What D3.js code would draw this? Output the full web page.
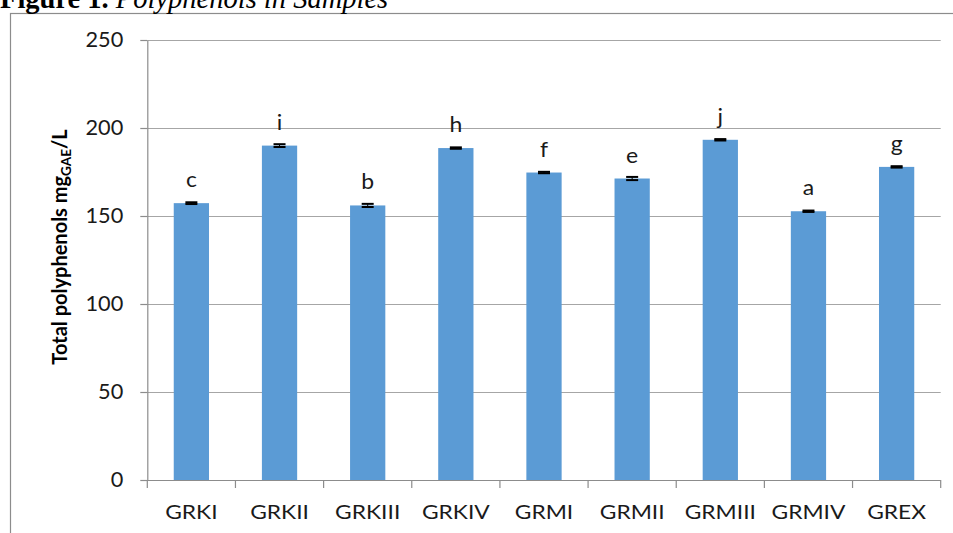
<!DOCTYPE html>
<html>
<head>
<meta charset="utf-8">
<script src="https://cdn.jsdelivr.net/npm/d3@7"></script>
<style>
  html, body { margin: 0; padding: 0; background: #fff; overflow: hidden; }
  svg { display: block; }
</style>
</head>
<body>
<svg id="chart" width="953" height="533"></svg>
<script>
const categories = ["GRKI", "GRKII", "GRKIII", "GRKIV", "GRMI", "GRMII", "GRMIII", "GRMIV", "GREX"];
const values = [157.3, 190.0, 156.0, 188.6, 174.7, 171.3, 193.3, 152.7, 177.9];
const errors = [0.5, 0.8, 0.9, 0.4, 0.4, 0.9, 0.4, 0.4, 0.4];
const letters = ["c", "i", "b", "h", "f", "e", "j", "a", "g"];
const yTicks = [0, 50, 100, 150, 200, 250];

(function () {
const svg = d3.select("#chart");
const pLeft = 147.3, pRight = 940.7, pTop = 40, pBottom = 480;
const sans = "Lato, 'Open Sans', sans-serif";
const textCol = "#1a1a1a";

// outer frame (clipped by window on right/bottom)
svg.append("rect")
  .attr("x", 10.5).attr("y", 13.5)
  .attr("width", 1000).attr("height", 1000)
  .attr("fill", "none").attr("stroke", "#8c8c8c").attr("stroke-width", 1.2);

// title (partially clipped at top, as in the reference)
const title = svg.append("text")
  .attr("x", 0).attr("y", 8)
  .attr("font-family", "'Liberation Serif', 'Times New Roman', serif")
  .attr("font-size", 28.5);
title.append("tspan").attr("font-weight", "bold").text("Figure 1. ");
title.append("tspan").attr("font-style", "italic").text("Polyphenols in Samples");

const x = d3.scaleBand().domain(categories).range([pLeft, pRight]).paddingInner(0.6).paddingOuter(0.3);
const y = d3.scaleLinear().domain([0, 250]).range([pBottom, pTop]);

// gridlines
svg.append("g")
  .selectAll("line").data(yTicks.filter(d => d > 0)).join("line")
  .attr("x1", pLeft).attr("x2", pRight)
  .attr("y1", d => Math.round(y(d)) + 0.5).attr("y2", d => Math.round(y(d)) + 0.5)
  .attr("stroke", "#a6a6a6").attr("stroke-width", 1.2);

// y axis
const yAxis = svg.append("g")
  .attr("transform", `translate(${pLeft},0)`)
  .call(d3.axisLeft(y).tickValues(yTicks).tickSize(7).tickPadding(18).tickSizeOuter(0));
yAxis.select(".domain").attr("stroke", "#8c8c8c").attr("stroke-width", 1.2);
yAxis.selectAll(".tick line").attr("stroke", "#8c8c8c").attr("stroke-width", 1.2);
yAxis.selectAll(".tick text")
  .attr("font-family", sans)
  .attr("font-size", 20.5).attr("fill", textCol)
  .attr("x", 0)
  .attr("transform", "translate(-24,0) scale(1.06,1)");

// bars
svg.append("g").selectAll("rect").data(categories).join("rect")
  .attr("x", d => x(d))
  .attr("width", x.bandwidth())
  .attr("y", (d, i) => y(values[i]))
  .attr("height", (d, i) => y(0) - y(values[i]))
  .attr("fill", "#5b9bd5");

// error bars
const eb = svg.append("g").attr("stroke", "#000").attr("stroke-width", 2);
categories.forEach((c, i) => {
  const cx = x(c) + x.bandwidth() / 2;
  const hi = y(values[i] + errors[i]), lo = y(values[i] - errors[i]);
  eb.append("line").attr("x1", cx).attr("x2", cx).attr("y1", hi).attr("y2", lo).attr("stroke-width", 1);
  eb.append("line").attr("x1", cx - 6).attr("x2", cx + 6).attr("y1", hi).attr("y2", hi);
  eb.append("line").attr("x1", cx - 6).attr("x2", cx + 6).attr("y1", lo).attr("y2", lo);
});

// x axis
const xAxisScale = d3.scaleLinear().domain([0, categories.length]).range([pLeft, pRight]);
const xg = svg.append("g");
xg.append("line")
  .attr("x1", pLeft).attr("x2", pRight).attr("y1", pBottom + 0.5).attr("y2", pBottom + 0.5)
  .attr("stroke", "#8c8c8c").attr("stroke-width", 1.2);
xg.selectAll("line.tk").data(d3.range(categories.length + 1)).join("line")
  .attr("class", "tk")
  .attr("x1", d => xAxisScale(d)).attr("x2", d => xAxisScale(d))
  .attr("y1", pBottom).attr("y2", pBottom + 8)
  .attr("stroke", "#8c8c8c").attr("stroke-width", 1.2);
xg.selectAll("text").data(categories).join("text")
  .attr("transform", d => `translate(${x(d) + x.bandwidth() / 2},519) scale(1.14,1)`)
  .attr("text-anchor", "middle")
  .attr("font-family", sans)
  .attr("font-size", 20).attr("fill", textCol)
  .text(d => d);

// significance letters
svg.append("g").selectAll("text").data(categories).join("text")
  .attr("transform", (d, i) => `translate(${x(d) + x.bandwidth() / 2},${y(values[i]) - 16}) scale(1.12,1)`)
  .attr("text-anchor", "middle")
  .attr("font-family", sans)
  .attr("font-size", 20.5).attr("fill", textCol)
  .text((d, i) => letters[i]);

// y axis title
const yt = svg.append("text")
  .attr("transform", `translate(67,247) rotate(-90)`)
  .attr("text-anchor", "middle")
  .attr("font-family", sans)
  .attr("font-weight", "bold")
  .attr("font-size", 20).attr("fill", "#000");
yt.append("tspan").text("Total polyphenols mg");
yt.append("tspan").attr("font-size", 13.5).attr("dy", 4).text("GAE");
yt.append("tspan").attr("dy", -4).text("/L");
})();
</script>
</body>
</html>
